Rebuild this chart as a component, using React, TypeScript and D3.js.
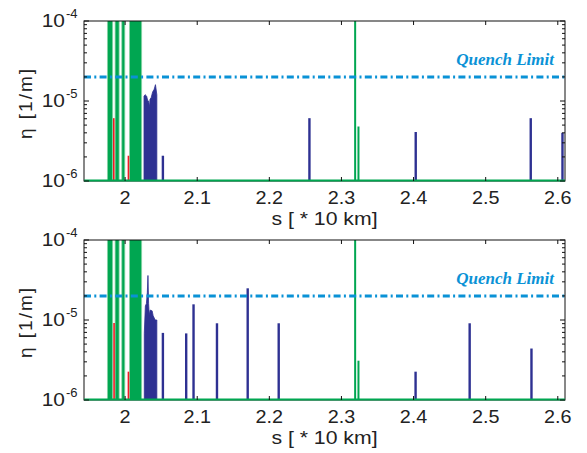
import React from "react";
import * as d3 from "d3";

const xDomain = [1.943, 2.61];
const xTicks = [2.0, 2.1, 2.2, 2.3, 2.4, 2.5, 2.6];
const xTickLabels = ["2", "2.1", "2.2", "2.3", "2.4", "2.5", "2.6"];
const yDomain = [1e-6, 1e-4];
const yTickExps = [-6, -5, -4];
const quenchLimit = 2e-5;
const OFF = 1e-3; // above axis top (clipped)

// green bands: collimator regions exceeding the plot
const greenBands = [
  [1.9754, 1.9828],
  [1.9861, 1.9917],
  [1.9954, 1.9996],
  [2.006, 2.023],
];
const greenSpikesTop = [
  [2.319, OFF],
  [2.3236, 4.8e-6],
];
const greenSpikesBottom = [
  [2.319, OFF],
  [2.3236, 3.1e-6],
];
const redSpikesTop = [
  [1.9843, 6.1e-6],
  [2.0046, 2.07e-6],
];
const redSpikesBottom = [
  [1.9847, 9.2e-6],
  [2.0046, 2.26e-6],
];
const blueClusterTop = [
  [2.0262, 1.15e-5],
  [2.0278, 1.2e-5],
  [2.0299, 1.15e-5],
  [2.0312, 1.02e-5],
  [2.0325, 1.0e-5],
  [2.034, 0.85e-5],
  [2.0345, 1.05e-5],
  [2.0361, 1.1e-5],
  [2.0382, 1.3e-5],
  [2.0403, 1.4e-5],
  [2.0421, 1.6e-5],
  [2.044, 1.2e-5],
];
const blueClusterBottom = [
  [2.0266, 6.8e-6],
  [2.0281, 1.5e-5],
  [2.0295, 1.6e-5],
  [2.0308, 2.2e-5],
  [2.0317, 3.6e-5],
  [2.0326, 1.6e-5],
  [2.0335, 1.15e-5],
  [2.0347, 1.33e-5],
  [2.0375, 1.3e-5],
  [2.0389, 1.13e-5],
  [2.0417, 1.0e-5],
  [2.044, 1.0e-5],
];
const blueSpikesTop = [
  [2.0524, 2.07e-6],
  [2.2556, 6.1e-6],
  [2.403, 4.1e-6],
  [2.5625, 6.1e-6],
  [2.6065, 4.0e-6],
];
const blueSpikesBottom = [
  [2.0524, 6.9e-6],
  [2.0847, 6.8e-6],
  [2.0949, 1.57e-5],
  [2.1274, 9.1e-6],
  [2.170, 2.49e-5],
  [2.213, 9.1e-6],
  [2.4028, 2.26e-6],
  [2.4778, 9.1e-6],
  [2.5635, 4.4e-6],
];

const GREEN = "#00a651";
const GREEN_LIGHT = "#8fd6a8";
const BLUE = "#2e3192";
const RED = "#ed1c24";
const QUENCH = "#0a92d6";
const FONT = "'Liberation Sans', Arial, sans-serif";

type Pt = number[];

function Panel({ id, top, cluster, blueSpikes, redSpikes, greenSpikes }: {
  id: string; top: number; cluster: Pt[]; blueSpikes: Pt[]; redSpikes: Pt[]; greenSpikes: Pt[];
}) {
  const left = 84, right = 565, bottom = top + 160;
  const x = d3.scaleLinear().domain(xDomain).range([left, right]);
  const y = d3.scaleLog().domain(yDomain).range([bottom, top]);
  const yc = (v: number) => Math.max(top - 5, y(v));
  const area = d3
    .area<Pt>()
    .x((d) => x(d[0]))
    .y0(y(yDomain[0]))
    .y1((d) => y(d[1]));
  const clusterPts: Pt[] = [[cluster[0][0], yDomain[0]], ...cluster, [cluster[cluster.length - 1][0], yDomain[0]]];
  const minor: number[] = [];
  for (let e = -6; e < -4; e++) for (let m = 2; m <= 9; m++) minor.push(m * Math.pow(10, e));
  const clipId = "clip" + id;
  const cx = (left + right) / 2;
  return (
    <g>
      <defs>
        <clipPath id={clipId}>
          <rect x={left} y={top} width={right - left} height={bottom - top} />
        </clipPath>
      </defs>
      <g clipPath={`url(#${clipId})`}>
        {greenBands.map((b, i) => (
          <rect key={i} x={x(b[0])} y={top - 5} width={x(b[1]) - x(b[0])} height={bottom - top + 5}
            fill={GREEN} stroke={GREEN_LIGHT} strokeWidth={0.8} />
        ))}
        {redSpikes.map((s, i) => (
          <line key={i} x1={x(s[0])} x2={x(s[0])} y1={bottom} y2={yc(s[1])} stroke={RED} strokeWidth={1.6} />
        ))}
        <path d={area(clusterPts) || ""} fill={BLUE} stroke={BLUE} strokeWidth={0.8} />
        {blueSpikes.map((s, i) => (
          <line key={i} x1={x(s[0])} x2={x(s[0])} y1={bottom} y2={yc(s[1])} stroke={BLUE} strokeWidth={2.4} />
        ))}
        {greenSpikes.map((s, i) => (
          <line key={i} x1={x(s[0])} x2={x(s[0])} y1={bottom} y2={yc(s[1])} stroke={GREEN} strokeWidth={2} />
        ))}
        <line x1={left} x2={right} y1={y(quenchLimit)} y2={y(quenchLimit)} stroke={QUENCH}
          strokeWidth={3} strokeDasharray="7,3.3,2,3.3" />
      </g>
      {/* axes box */}
      <rect x={left} y={top} width={right - left} height={bottom - top} fill="none" stroke="#111" strokeWidth={1} />
      <line x1={left} x2={right} y1={bottom - 0.5} y2={bottom - 0.5} stroke={GREEN} strokeWidth={2.2} />
      {xTicks.map((t, i) => (
        <g key={i}>
          <line x1={x(t)} x2={x(t)} y1={bottom} y2={bottom - 4} stroke="#111" />
          <line x1={x(t)} x2={x(t)} y1={top} y2={top + 4} stroke="#111" />
          <text x={x(t)} y={bottom + 23.5} textAnchor="middle" fontSize={18} fontFamily={FONT} fill="#222"
            transform={`translate(${x(t)},0) scale(1.1,1) translate(${-x(t)},0)`}>
            {xTickLabels[i]}
          </text>
        </g>
      ))}
      {yTickExps.map((e) => {
        const yy = y(Math.pow(10, e));
        return (
          <g key={e}>
            <line x1={left} x2={left + 5} y1={yy} y2={yy} stroke="#111" />
            <line x1={right} x2={right - 5} y1={yy} y2={yy} stroke="#111" />
            <text x={65} y={yy + 6.5} textAnchor="end" fontSize={19} fontFamily={FONT} fill="#222"
              transform={`translate(65,0) scale(1.1,1) translate(-65,0)`}>10</text>
            <text x={66} y={yy - 3} textAnchor="start" fontSize={13} fontFamily={FONT} fill="#222">{String(e)}</text>
          </g>
        );
      })}
      {minor.map((v, i) => (
        <g key={i}>
          <line x1={left} x2={left + 3} y1={y(v)} y2={y(v)} stroke="#111" />
          <line x1={right} x2={right - 3} y1={y(v)} y2={y(v)} stroke="#111" />
        </g>
      ))}
      <text x={cx} y={bottom + 44.5} textAnchor="middle" fontSize={18} fontFamily={FONT} fill="#222"
        transform={`translate(${cx},0) scale(1.18,1) translate(${-cx},0)`}>
        s [ * 10 km]
      </text>
      <text transform={`translate(32,${(top + bottom) / 2 + 3}) rotate(-90)`} textAnchor="middle" fontSize={19}
        fontFamily={FONT} fill="#222" textLength={70} lengthAdjust="spacing">
        η [1/m]
      </text>
      <text x={554} y={top + 44} textAnchor="end" fontSize={17} fontStyle="italic" fontWeight="bold"
        fontFamily="'Liberation Serif', 'Times New Roman', serif" fill={QUENCH}>
        Quench Limit
      </text>
    </g>
  );
}

export default function App() {
  return (
    <svg width={587} height={453} style={{ position: "absolute", left: 0, top: 0, background: "#fff" }}>
      <rect width={587} height={453} fill="#fff" />
      <Panel id="a" top={21} cluster={blueClusterTop} blueSpikes={blueSpikesTop} redSpikes={redSpikesTop}
        greenSpikes={greenSpikesTop} />
      <Panel id="b" top={240} cluster={blueClusterBottom} blueSpikes={blueSpikesBottom} redSpikes={redSpikesBottom}
        greenSpikes={greenSpikesBottom} />
    </svg>
  );
}
